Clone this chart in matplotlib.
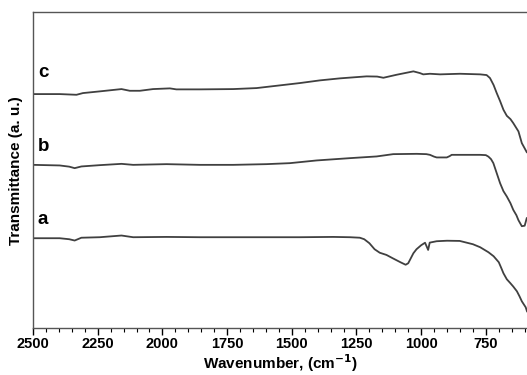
import numpy as np
import matplotlib
matplotlib.use("Agg")
import matplotlib.pyplot as plt
from matplotlib.ticker import MultipleLocator

plt.rcParams['font.family'] = ['Liberation Sans', 'DejaVu Sans']

# spectra (wavenumber, transmittance a.u.)
wn_a = [2500, 2397, 2360, 2339, 2313, 2242, 2158, 2113, 1984, 1855, 1726, 1598, 1469, 1340,
        1275, 1237, 1220, 1200, 1180, 1160, 1134, 1110, 1080, 1060, 1050, 1040, 1030,
        1018, 1000, 985, 973, 967, 940, 900, 851, 800, 772, 740, 720, 700, 690,
        682, 669, 655, 644, 630, 620, 611, 596, 591]
tr_a = [90, 90, 89, 87.7, 90.5, 91, 92.7, 91, 91.3, 91, 91, 91, 91, 91.3,
        91, 90.5, 89, 85, 79, 75.5, 73.3, 70, 66, 63.5, 65, 70, 75,
        79, 83, 85.5, 78.3, 85.6, 87, 87.5, 87.3, 84, 81, 76, 72, 66, 60,
        55, 49, 45, 41.7, 37, 32, 27, 21, 17]

wn_b = [2500, 2397, 2360, 2339, 2313, 2242, 2158, 2113, 1984, 1855, 1726, 1598, 1507, 1404,
        1275, 1172, 1108, 1017, 980, 966, 950, 940, 901, 890, 882, 772, 750, 740, 730,
        721, 708, 695, 682, 669, 655, 644, 632, 624, 611, 600, 592]
tr_b = [163.3, 162.7, 161.5, 160, 161.7, 163, 164.3, 163.3, 164, 163.3, 163.3, 164, 165, 167.7,
        170, 171.7, 174, 174.3, 174, 173.3, 171.5, 170.7, 170.7, 172, 173.3, 173.3, 173, 171.5, 169,
        165, 155, 145, 137, 131.7, 125, 118.3, 113, 108, 102, 102.5, 110]

wn_c = [2500, 2397, 2332, 2307, 2242, 2158, 2126, 2087, 2036, 1971, 1946, 1855, 1726,
        1636, 1559, 1469, 1391, 1314, 1211, 1170, 1146, 1095, 1030, 1005, 992, 966, 927, 850,
        772, 747, 734, 720, 708, 695, 682, 669, 655, 644, 624, 611, 592]
tr_c = [234, 234, 233.3, 235, 236.7, 239, 237.3, 237.3, 239, 239.7, 238.7, 238.7, 239,
        240, 242.3, 245, 247.7, 249.7, 251.7, 251.5, 250.3, 253.3, 256.7, 255, 253.7, 254.3, 253.7, 254.3,
        253.7, 253, 250, 243, 235, 227, 218.3, 212.3, 209, 205, 196.7, 185, 176]

labels = ['a', 'b', 'c']
label_y = [109, 182, 256]

fig = plt.figure(figsize=(5.27, 3.75), dpi=100)
ax = fig.add_axes([0.0626, 0.1245, 0.9374, 0.8435])

lc = '#404040'
for wn, tr in [(wn_a, tr_a), (wn_b, tr_b), (wn_c, tr_c)]:
    ax.plot(wn, tr, color=lc, lw=1.3)

for lab, y in zip(labels, label_y):
    ax.text(2481, y, lab, fontsize=13.5, fontweight='bold', ha='left', va='center')

ax.set_xlim(2500, 591)
ax.set_ylim(0, 316)
ax.set_yticks([])
ax.xaxis.set_major_locator(MultipleLocator(250))
ax.xaxis.set_minor_locator(MultipleLocator(50))
ax.tick_params(axis='x', which='major', direction='out', length=5, width=1, labelsize=10.5, pad=1.5)
ax.tick_params(axis='x', which='minor', direction='out', length=3, width=0.8)
for lbl in ax.get_xticklabels():
    lbl.set_fontweight('bold')
ax.spines['right'].set_visible(False)
for s in ['left', 'top', 'bottom']:
    ax.spines[s].set_color('#555555')
    ax.spines[s].set_linewidth(1.0)

ax.set_xlabel('Wavenumber, (cm$^{\\mathbf{-1}}$)', fontsize=11, fontweight='bold', labelpad=0.5)
ax.set_ylabel('Transmittance (a. u.)', fontsize=11, fontweight='bold', labelpad=7)

fig.savefig('out.png', dpi=100)
